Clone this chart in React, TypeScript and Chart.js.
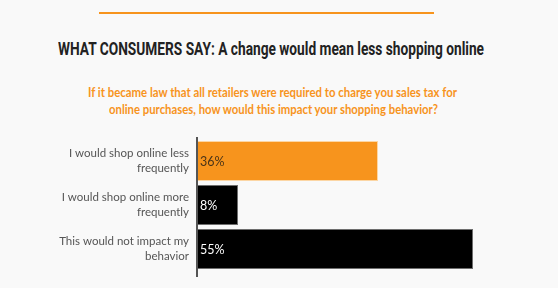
import React, { useEffect, useLayoutEffect, useRef, useState } from "react";
import { Chart, registerables } from "chart.js";

Chart.register(...registerables);

const TITLE = "WHAT CONSUMERS SAY: A change would mean less shopping online";
const SUBTITLE_LINES = [
  "If it became law that all retailers were required to charge you sales tax for",
  "online purchases, how would this impact your shopping behavior?",
];
const categories: string[][] = [
  ["I would shop online less", "frequently"],
  ["I would shop online more", "frequently"],
  ["This would not impact my", "behavior"],
];
const values = [36, 8, 55];
const barColors = ["#f7941d", "#000000", "#000000"];
const barBorders = ["#fcd6a4", "#6e6e6e", "#6e6e6e"];
const valueLabelColors = ["#4a3418", "#ffffff", "#ffffff"];
const xMax = 60;

const ORANGE = "#f7941d";
const BG = "#f9f9f9";
const BODY_FONT = "Lato, 'Open Sans', sans-serif";

function FitLine(props: {
  text: string;
  center: number;
  width: number;
  top: number;
  font: string;
  weight: string;
  size: number;
  color: string;
}) {
  const ref = useRef<HTMLSpanElement | null>(null);
  const [scale, setScale] = useState(1);
  useLayoutEffect(() => {
    if (ref.current) {
      const w = ref.current.getBoundingClientRect().width;
      if (w > 0) setScale(props.width / w);
    }
  }, []);
  return (
    <div
      style={{
        position: "absolute",
        left: props.center - props.width / 2,
        top: props.top,
        width: props.width,
        whiteSpace: "nowrap",
        overflow: "visible",
      }}
    >
      <span
        ref={ref}
        style={{
          display: "inline-block",
          fontFamily: props.font,
          fontWeight: props.weight as any,
          fontSize: props.size,
          lineHeight: props.size + 4 + "px",
          color: props.color,
          transform: `scaleX(${scale})`,
          transformOrigin: "left top",
        }}
      >
        {props.text}
      </span>
    </div>
  );
}

export default function App() {
  const ref = useRef<HTMLCanvasElement | null>(null);

  useEffect(() => {
    if (!ref.current) return;
    const valueLabels = {
      id: "valueLabels",
      afterDatasetsDraw(chart: any) {
        const ctx = chart.ctx;
        const meta = chart.getDatasetMeta(0);
        ctx.save();
        ctx.font = "12.5px " + BODY_FONT;
        ctx.textBaseline = "middle";
        ctx.textAlign = "left";
        meta.data.forEach((bar: any, i: number) => {
          ctx.fillStyle = valueLabelColors[i];
          ctx.fillText(values[i] + "%", bar.base + 2, bar.y + 1);
        });
        const a = chart.chartArea;
        ctx.strokeStyle = "#555555";
        ctx.lineWidth = 2;
        ctx.beginPath();
        ctx.moveTo(a.left - 1, a.top - 2);
        ctx.lineTo(a.left - 1, a.bottom + 6);
        ctx.stroke();
        ctx.restore();
      },
    };
    const chart = new Chart(ref.current, {
      type: "bar",
      data: {
        labels: categories,
        datasets: [
          {
            data: values,
            backgroundColor: barColors,
            borderColor: barBorders,
            borderWidth: 1,
            borderSkipped: "left",
            barPercentage: 40 / 44,
            categoryPercentage: 1,
          },
        ],
      },
      options: {
        indexAxis: "y",
        animation: false,
        responsive: false,
        maintainAspectRatio: false,
        layout: { padding: { top: 9, bottom: 17, left: 0, right: 60 } },
        plugins: {
          legend: { display: false },
          tooltip: { enabled: false },
        },
        scales: {
          x: { display: false, min: 0, max: xMax },
          y: {
            grid: { display: false, drawTicks: false },
            border: { display: false },
            afterFit: (s: any) => {
              s.width = 198;
              s.paddingTop = 0;
              s.paddingBottom = 0;
            },
            ticks: {
              color: "#555555",
              padding: 9,
              font: { family: BODY_FONT, size: 11.5, lineHeight: 1.3 },
            },
          },
        },
      },
      plugins: [valueLabels],
    });
    return () => chart.destroy();
  }, []);

  return (
    <div
      style={{
        position: "fixed",
        left: 0,
        top: 0,
        width: 558,
        height: 288,
        background: BG,
        overflow: "hidden",
      }}
    >
      <div
        style={{
          position: "absolute",
          left: 99,
          top: 12,
          width: 335,
          height: 2,
          background: ORANGE,
        }}
      />
      <FitLine
        text={TITLE}
        center={271}
        width={426}
        top={38}
        font="Roboto, sans-serif"
        weight="bold"
        size={18}
        color="#222222"
      />
      <FitLine
        text={SUBTITLE_LINES[0]}
        center={272.5}
        width={369}
        top={83}
        font={BODY_FONT}
        weight="bold"
        size={13}
        color={ORANGE}
      />
      <FitLine
        text={SUBTITLE_LINES[1]}
        center={273.5}
        width={329}
        top={100}
        font={BODY_FONT}
        weight="bold"
        size={13}
        color={ORANGE}
      />
      <canvas
        ref={ref}
        width={558}
        height={158}
        style={{ position: "absolute", left: 0, top: 130, width: 558, height: 158 }}
      />
    </div>
  );
}
